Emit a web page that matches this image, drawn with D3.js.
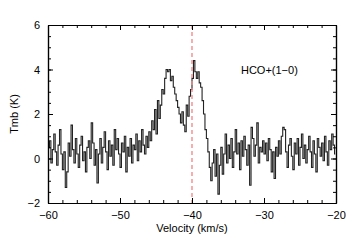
<!DOCTYPE html>
<html><head><meta charset="utf-8">
<script src="https://cdn.jsdelivr.net/npm/d3@7"></script>
<style>body{margin:0;background:#fff}svg{display:block}text{font-family:"Liberation Sans",Arial,sans-serif}</style>
</head><body>
<script>
// Data
const vStart = -60, vStep = 0.2;
const tmb = [
 0.5, 0.8, -0.2, 0.4, 1.1, 0.3, -0.3, 0.6, 1.3, 0.2,
 -0.5, 0.3, -1.3, -0.6, 0.7, 0.1, 1.5, 0.4, -0.2, 0.9,
 0.2, -0.4, 0.6, 1.0, -0.1, 0.3, -0.6, 0.5, 0.8, 0.0,
 1.6, 0.7, -0.3, 0.4, -1.1, 0.2, 0.9, -0.2, 0.5, 1.2,
 0.3, -0.5, 0.8, 0.1, 0.6, -0.3, 1.3, 0.4, 0.9, 0.2,
 -0.4, 0.7, 0.3, 1.0, -0.6, 0.5, 0.1, 0.9, -0.2, 0.6,
 0.4, 1.1, -0.1, 0.8, 0.3, 1.3, 0.6, 0.2, 1.0, 0.5,
 1.2, 0.8, 1.7, 1.3, 2.2, 1.1, 2.6, 1.8, 2.4, 3.1,
 2.9, 3.6, 4.0, 3.9, 4.0, 3.5, 3.7, 3.2, 2.9, 2.6,
 2.3, 2.0, 1.6, 2.1, 1.5, 1.2, 2.4, 1.9, 2.8, 3.1,
 3.6, 4.4, 3.9, 3.6, 3.9, 3.4, 3.2, 2.6, 2.0, 1.3,
 0.9, 0.3, -0.4, -1.0, -0.2, 0.4, -0.8, 0.2, -1.6, -0.3,
 0.5, -0.7, 0.2, 1.1, -0.2, 0.6, 0.0, 0.9, -0.4, 0.3,
 1.3, 0.2, 0.7, -0.5, 0.8, 0.1, 1.0, 0.4, -0.3, 0.6,
 -1.2, 1.4, 0.9, 0.1, 0.6, 1.6, -0.2, 0.5, 0.3, 0.8,
 0.2, 0.7, -0.1, 0.9, 0.4, -0.6, 0.3, -0.9, 0.5, 0.1,
 0.8, 0.2, 1.0, 1.4, 1.3, 0.3, -0.4, 0.6, 0.9, 0.1,
 -0.5, 0.7, 0.2, 0.9, -0.3, 0.5, 1.1, 0.0, 0.6, -0.2,
 0.4, 1.0, 0.3, -0.4, 0.8, 0.2, -0.6, 0.9, 0.5, 0.1,
 0.7, -0.1, 1.0, 0.3, -0.3, 0.8, 0.4, 1.1, 0.6, 0.2
];
const xTicks = [-60, -50, -40, -30, -20];
const yTicks = [-2, 0, 2, 4, 6];
const markerVelocity = -40;
const lineLabel = "HCO+(1\u22120)";
const xTitle = "Velocity (km/s)";
const yTitle = "Tmb (K)";

const W = 360, H = 249;
const m = {left: 48, right: 24, top: 25, bottom: 46};
const svg = d3.select("body").append("svg").attr("width", W).attr("height", H);
const x = d3.scaleLinear().domain([-60, -20]).range([m.left, W - m.right]);
const y = d3.scaleLinear().domain([-2, 6]).range([H - m.bottom, m.top]);

svg.append("defs").append("clipPath").attr("id", "c").append("rect")
  .attr("x", m.left).attr("y", m.top).attr("width", W - m.left - m.right).attr("height", H - m.top - m.bottom);

const data = tmb.map((t, i) => ({v: vStart + vStep * (i + 0.5), t}));
svg.append("path").datum(data).attr("clip-path", "url(#c)")
  .attr("fill", "none").attr("stroke", "#222").attr("stroke-width", 1.1)
  .attr("d", d3.line().x(d => x(d.v)).y(d => y(d.t)).curve(d3.curveStep));

svg.append("line").attr("x1", x(markerVelocity)).attr("x2", x(markerVelocity))
  .attr("y1", y(6)).attr("y2", y(-2))
  .attr("stroke", "#f28c8c").attr("stroke-width", 1.4).attr("stroke-dasharray", "4,3");

const fmt = d => d < 0 ? "\u2212" + Math.abs(d) : String(d);
const fs = 11;
const minorX = d3.range(-60, -19.99, 2);
const minorY = d3.range(-2, 6.01, 0.5);

// bottom axis
const bx = d3.axisBottom(x).tickValues(xTicks).tickFormat(fmt).tickSizeInner(-5).tickSizeOuter(0).tickPadding(8);
const gB = svg.append("g").attr("transform", `translate(0,${y(-2)})`).call(bx);
gB.append("g").call(d3.axisBottom(x).tickValues(minorX).tickFormat("").tickSizeInner(-3).tickSizeOuter(0));
// top axis
const gT = svg.append("g").attr("transform", `translate(0,${y(6)})`).call(d3.axisTop(x).tickValues(xTicks).tickFormat("").tickSizeInner(-5).tickSizeOuter(0));
gT.append("g").call(d3.axisTop(x).tickValues(minorX).tickFormat("").tickSizeInner(-3).tickSizeOuter(0));
// left axis
const gL = svg.append("g").attr("transform", `translate(${x(-60)},0)`).call(d3.axisLeft(y).tickValues(yTicks).tickFormat(fmt).tickSizeInner(-5).tickSizeOuter(0).tickPadding(8));
gL.append("g").call(d3.axisLeft(y).tickValues(minorY).tickFormat("").tickSizeInner(-3).tickSizeOuter(0));
// right axis
const gR = svg.append("g").attr("transform", `translate(${x(-20)},0)`).call(d3.axisRight(y).tickValues(yTicks).tickFormat("").tickSizeInner(-5).tickSizeOuter(0));
gR.append("g").call(d3.axisRight(y).tickValues(minorY).tickFormat("").tickSizeInner(-3).tickSizeOuter(0));

svg.selectAll(".domain").attr("stroke", "#000").attr("stroke-width", 1.2);
svg.selectAll(".tick line").attr("stroke", "#000").attr("stroke-width", 1);
svg.selectAll(".tick text").attr("font-size", fs).attr("fill", "#000").style("font-family", '"Liberation Sans",Arial,sans-serif');

svg.append("text").attr("x", x(-40)).attr("y", 232).attr("text-anchor", "middle")
  .attr("font-size", fs).text(xTitle);
svg.append("text").attr("transform", `translate(18,${(y(-2)+y(6))/2}) rotate(-90)`).attr("text-anchor", "middle")
  .attr("font-size", fs).text(yTitle);
svg.append("text").attr("x", x(-33.2)).attr("y", 74).attr("font-size", fs).text(lineLabel);
</script>
</body></html>
